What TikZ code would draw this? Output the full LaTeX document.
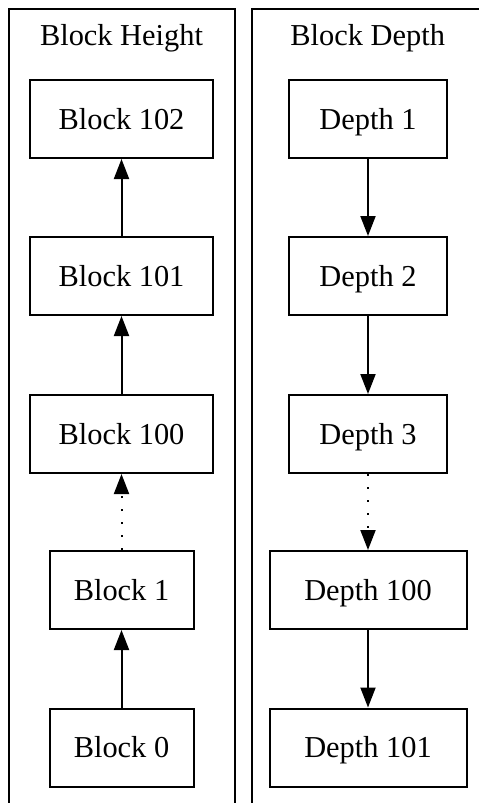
\documentclass[tikz,border=0pt]{standalone}
\usepackage{fontspec}
\setmainfont{Liberation Serif}
\usetikzlibrary{arrows.meta}
\begin{document}
\begin{tikzpicture}[x=1pt,y=-1pt,line width=2pt,
  box/.style={draw,rectangle,inner sep=0pt,minimum height=78pt,text height=20.5pt,text depth=0pt,font=\fontsize{30.4}{36}\selectfont},
  title/.style={anchor=base,inner sep=0pt,font=\fontsize{30.4}{36}\selectfont},
  arr/.style={-{Triangle[length=20pt,width=15pt]}},
  dotline/.style={arr,dash pattern=on 2pt off 11pt}]
\useasboundingbox (0,0) rectangle (479,803);
\clip (0,0) rectangle (479,803);
% clusters
\draw (9,9) rectangle (235,804);
\draw (252,9) rectangle (500,804);
\node[title] (th) at (121.5,45) {Block Height};
\node[title] (td) at (367.7,45) {Block Depth};
% left column
\node[box,minimum width=183pt] (b102) at (121.5,119) {Block 102};
\node[box,minimum width=183pt] (b101) at (121.5,276) {Block 101};
\node[box,minimum width=183pt] (b100) at (121.5,434) {Block 100};
\node[box,minimum width=144pt] (b1) at (121.5,590) {Block 1};
\node[box,minimum width=144pt] (b0) at (121.5,747.5) {Block 0};
% right column
\node[box,minimum width=158pt] (d1) at (368,119) {Depth 1};
\node[box,minimum width=158pt] (d2) at (368,276) {Depth 2};
\node[box,minimum width=158pt] (d3) at (368,434) {Depth 3};
\node[box,minimum width=197pt] (d100) at (368,590) {Depth 100};
\node[box,minimum width=197pt] (d101) at (368,747.5) {Depth 101};
% edges
\draw[arr] (b0) -- (b1);
\draw[dotline] (b1) -- (b100);
\draw[arr] (b100) -- (b101);
\draw[arr] (b101) -- (b102);
\draw[arr] (d1) -- (d2);
\draw[arr] (d2) -- (d3);
\draw[dotline] (d3) -- (d100);
\draw[arr] (d100) -- (d101);
\end{tikzpicture}
\end{document}
